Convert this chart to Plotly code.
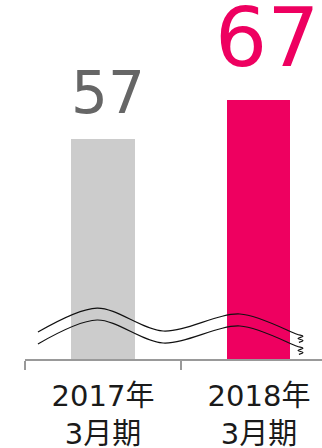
import plotly.graph_objects as go

categories = ["2017年<br>3月期", "2018年<br>3月期"]
values = [57, 67]
bar_colors = ["#cccccc", "#ee0060"]
label_colors = ["#666666", "#ee0060"]
label_sizes = [58, 82]

# decorative break-mark waves (x in category units, y in value units)
wave_x = [-0.417, -0.038, 0.385, 0.878, 1.244, 1.282, 1.250, 1.282, 1.256]
wave_upper_y = [7.0, 13.2, 7.25, 11.66, 6.4, 5.9, 5.3, 4.8, 4.3]
wave_lower_y = [3.9, 10.1, 4.15, 8.55, 3.3, 2.8, 2.2, 1.7, 1.2]

fig = go.Figure()
fig.add_trace(go.Bar(
    x=categories, y=values, marker=dict(color=bar_colors, line=dict(width=0)),
    width=0.404, hoverinfo="skip", showlegend=False,
))
for wy in (wave_upper_y, wave_lower_y):
    fig.add_trace(go.Scatter(
        x=wave_x, y=wy, xaxis="x2", mode="lines",
        line=dict(color="#111111", width=1.2, shape="spline", smoothing=0.9),
        hoverinfo="skip", showlegend=False,
    ))

for i, (v, c, s) in enumerate(zip(values, label_colors, label_sizes)):
    fig.add_annotation(
        x=categories[i], y=v, text=str(v), showarrow=False,
        yanchor="bottom", xanchor="center", yshift=10 if i == 0 else 13,
        xshift=5 if i == 0 else 8,
        font=dict(family="DejaVu Sans", size=s, color=c),
    )

fig.update_layout(
    width=322, height=448,
    margin=dict(l=25, r=0, t=0, b=89, autoexpand=False),
    paper_bgcolor="white", plot_bgcolor="white",
    bargap=0,
    xaxis=dict(
        type="category", range=[-0.5, 1.404], tickson="boundaries",
        ticks="outside", ticklen=9, tickwidth=2, tickcolor="#999999",
        showline=True, linecolor="#999999", linewidth=2, automargin=False,
        showgrid=False, zeroline=False, ticklabelstandoff=10,
        tickfont=dict(family="DejaVu Sans, Noto Sans CJK JP", size=29, color="#1a1a1a"),
    ),
    xaxis2=dict(overlaying="x", range=[-0.5, 1.404], visible=False),
    yaxis=dict(range=[0, 93.0], visible=False, showgrid=False, zeroline=False, automargin=False),
)

fig.write_html("out.html")
